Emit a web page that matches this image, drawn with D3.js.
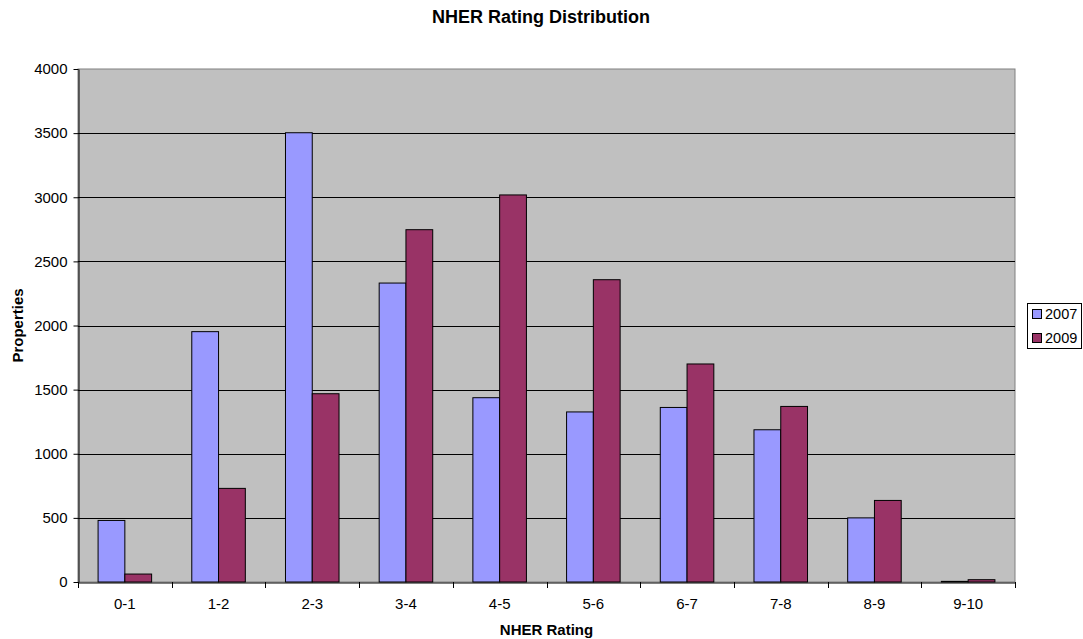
<!DOCTYPE html>
<html>
<head>
<meta charset="utf-8">
<script src="https://cdn.jsdelivr.net/npm/d3@7"></script>
<style>
  html, body { margin: 0; padding: 0; background: #fff; }
  svg { display: block; font-family: "Liberation Sans", Arial, sans-serif; }
</style>
</head>
<body>
<svg id="chart" width="1083" height="639"></svg>
<script>
const categories = ["0-1","1-2","2-3","3-4","4-5","5-6","6-7","7-8","8-9","9-10"];
const seriesNames = ["2007","2009"];
const values2007 = [480, 1952, 3503, 2331, 1437, 1326, 1361, 1187, 500, 5];
const values2009 = [62, 730, 1468, 2747, 3018, 2357, 1700, 1369, 636, 18];
const yTicks = [0, 500, 1000, 1500, 2000, 2500, 3000, 3500, 4000];
const colors = ["#9999FF", "#993366"];

(function () {
const svg = d3.select("#chart");
const pL = 78, pR = 1015, pT = 69, pB = 582;

const x = d3.scaleBand().domain(categories).range([pL, pR]).paddingInner(0).paddingOuter(0);
const bw = x.bandwidth() / 3.5;
const xs = d3.scaleBand().domain(seriesNames).range([0.75 * bw, 2.75 * bw]).padding(0);
const y = d3.scaleLinear().domain([0, 4000]).range([pB, pT]);

// plot background
svg.append("rect").attr("x", pL).attr("y", pT).attr("width", pR - pL).attr("height", pB - pT)
  .attr("fill", "#C0C0C0").attr("stroke", "#808080").attr("stroke-width", 1);

// gridlines
svg.append("g").selectAll("line").data(yTicks.filter(d => d > 0 && d < 4000)).join("line")
  .attr("x1", pL).attr("x2", pR)
  .attr("y1", d => Math.round(y(d)) + 0.5).attr("y2", d => Math.round(y(d)) + 0.5)
  .attr("stroke", "#000").attr("stroke-width", 1);

// bars
const data = categories.map((c, i) => ({ c, vals: [values2007[i], values2009[i]] }));
const groups = svg.append("g").selectAll("g").data(data).join("g")
  .attr("transform", d => `translate(${x(d.c)},0)`);
groups.selectAll("rect").data(d => d.vals.map((v, j) => ({ v, s: seriesNames[j], j }))).join("rect")
  .attr("x", d => xs(d.s)).attr("width", xs.bandwidth())
  .attr("y", d => y(d.v)).attr("height", d => y(0) - y(d.v))
  .attr("fill", d => colors[d.j]).attr("stroke", "#000").attr("stroke-width", 1);

// y axis
const yAxis = d3.axisLeft(y).tickValues(yTicks).tickFormat(d3.format("d"))
  .tickSize(5).tickSizeOuter(0).tickPadding(6);
const gy = svg.append("g").attr("transform", `translate(${pL + 0.5},0)`).call(yAxis);
gy.select(".domain").attr("stroke", "#000");
gy.selectAll(".tick line").attr("stroke", "#000");
gy.selectAll(".tick text").attr("font-size", 15).attr("fill", "#000")
  .attr("font-family", "Liberation Sans, Arial, sans-serif");

// x axis
const xAxis = d3.axisBottom(x).tickSize(0).tickPadding(16);
const gx = svg.append("g").attr("transform", `translate(0,${pB + 0.5})`).call(xAxis);
gx.select(".domain").attr("stroke", "#000");
gx.selectAll(".tick text").attr("font-size", 15).attr("fill", "#000")
  .attr("font-family", "Liberation Sans, Arial, sans-serif");
const bounds = categories.map(c => x(c)).concat([pR]);
svg.append("g").selectAll("line").data(bounds).join("line")
  .attr("x1", d => Math.round(d) + 0.5).attr("x2", d => Math.round(d) + 0.5)
  .attr("y1", pB).attr("y2", pB + 6).attr("stroke", "#000");

// titles
svg.append("text").attr("x", 541).attr("y", 23).attr("text-anchor", "middle")
  .attr("font-size", 18).attr("font-weight", "bold").text("NHER Rating Distribution");
svg.append("text").attr("x", (pL + pR) / 2).attr("y", 635).attr("text-anchor", "middle")
  .attr("font-size", 15).attr("font-weight", "bold").text("NHER Rating");
svg.append("text").attr("transform", `translate(23,${(pT + pB) / 2}) rotate(-90)`)
  .attr("text-anchor", "middle").attr("font-size", 15).attr("font-weight", "bold").text("Properties");

// legend
const lg = svg.append("g");
lg.append("rect").attr("x", 1027.5).attr("y", 303.5).attr("width", 54).attr("height", 45)
  .attr("fill", "#fff").attr("stroke", "#000");
seriesNames.forEach((s, i) => {
  const yy = 314 + i * 24;
  lg.append("rect").attr("x", 1032.5).attr("y", yy - 4.5).attr("width", 9).attr("height", 9)
    .attr("fill", colors[i]).attr("stroke", "#000");
  lg.append("text").attr("x", 1045).attr("y", yy + 5).attr("font-size", 14.5).text(s);
});
})();
</script>
</body>
</html>
